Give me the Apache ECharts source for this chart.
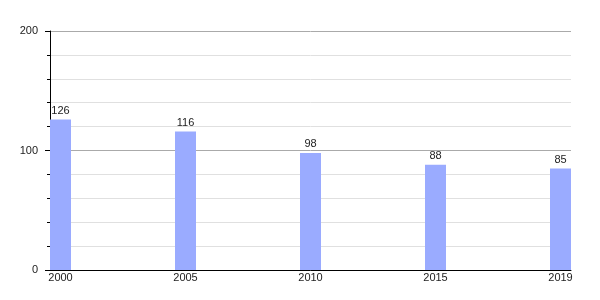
<!DOCTYPE html>
<html>
<head>
<meta charset="utf-8">
<script src="https://cdn.jsdelivr.net/npm/echarts@6/dist/echarts.min.js"></script>
<style>html,body{margin:0;padding:0;background:#fff}#c{width:600px;height:300px}</style>
</head>
<body>
<div id="c"></div>
<script>
const categories = ['2000', '2005', '2010', '2015', '2019'];
const values = [126, 116, 98, 88, 85];
const yTicks = [0, 100, 200];

const chart = echarts.init(document.getElementById('c'), null, {renderer: 'canvas'});
const font = 'Liberation Sans, Arial, sans-serif';
chart.setOption({
  animation: false,
  backgroundColor: '#ffffff',
  grid: {left: 50, right: 29, top: 31, bottom: 30, containLabel: false},
  xAxis: {
    type: 'value',
    min: -0.084,
    max: 4.084,
    splitLine: {show: false},
    axisTick: {show: false},
    axisLine: {show: true, onZero: false, lineStyle: {color: '#000', width: 1}},
    axisLabel: {
      customValues: categories.map((c, i) => i),
      formatter: v => categories[Math.round(v)] || '',
      color: '#222', fontSize: 11, fontFamily: font, margin: 2
    }
  },
  yAxis: {
    type: 'value',
    min: 0, max: 200, interval: 100,
    axisLine: {show: true, onZero: false, lineStyle: {color: '#000', width: 1}},
    axisTick: {show: true, length: 5, lineStyle: {color: '#000'}},
    minorTick: {show: true, splitNumber: 5, length: 3, lineStyle: {color: '#000'}},
    splitLine: {show: true, lineStyle: {color: '#aaaaaa', width: 1}},
    minorSplitLine: {show: true, lineStyle: {color: '#e0e0e0', width: 1}},
    axisLabel: {
      formatter: v => yTicks.includes(v) ? String(v) : '',
      color: '#222', fontSize: 11, fontFamily: font, margin: 12
    }
  },
  series: [{
    type: 'bar',
    barWidth: 21,
    data: values.map((v, i) => [i, v]),
    itemStyle: {color: '#9aabff'},
    label: {
      show: true, position: 'top', distance: 3,
      formatter: p => String(p.value[1]),
      color: '#222', fontSize: 11, fontFamily: font
    }
  }]
});
</script>
</body>
</html>
